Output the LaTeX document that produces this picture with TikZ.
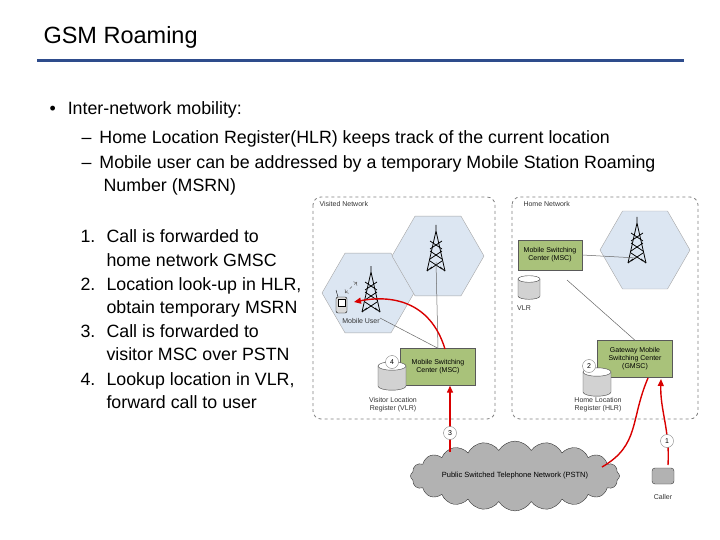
\documentclass[tikz,border=0pt]{standalone}
\usepackage{fontspec}
\setmainfont{Liberation Sans}
\usetikzlibrary{shapes.geometric,shapes.symbols,arrows.meta}
\definecolor{boxgreen}{HTML}{A9C27A}
\definecolor{hexfill}{HTML}{DCE6F2}
\definecolor{rulecol}{HTML}{2E4C8C}
\tikzset{
  txt/.style={anchor=base west,font=\fontsize{17.8}{20}\selectfont},
  sm/.style={font=\fontsize{7}{8}\selectfont,align=center,text=black!80},
  netbox/.style={draw=gray,dashed,rounded corners=8pt,line width=0.8pt},
  msc/.style={draw=gray!70!black,fill=boxgreen,minimum width=#1,minimum height=37pt,font=\fontsize{7}{8}\selectfont,align=center},
  hex/.style={regular polygon,regular polygon sides=6,shape border rotate=0,draw=gray!70,fill=hexfill,inner sep=0pt},
  num/.style={circle,draw=gray,fill=white,inner sep=1pt,minimum size=13pt,font=\fontsize{7}{8}\selectfont},
  red/.style={draw=red!85!black,line width=1.4pt},
  thin/.style={draw=gray!80!black,line width=0.5pt}
}
% cylinder: center x, top y, half width, body height
\newcommand{\cyld}[4]{\begin{scope}[shift={(#1,#2)}]
 \draw[draw=gray!50!black,fill=gray!35] (-#3,0) -- (-#3,#4) arc[start angle=180,end angle=360,x radius=#3,y radius=-#3*0.3] -- (#3,0) -- cycle;
 \draw[draw=gray!50!black,fill=white] (0,0) ellipse[x radius=#3,y radius=#3*0.3];
\end{scope}}
\newcommand{\tower}[1]{\begin{scope}[shift={#1},line width=0.8pt]
 \draw (0,-30)--(-9,10) (0,-30)--(9,10) (0,-36)--(0,-28);
 \foreach \y in {-20,-10,0} {\draw (-6,\y+8)--(6,\y);\draw (6,\y+8)--(-6,\y);}
 \draw (-9,10)--(-4,6) (9,10)--(4,6);
\end{scope}}
\begin{document}
\begin{tikzpicture}[x=1pt,y=-1pt]
\useasboundingbox (0,0) rectangle (720,540);
\node[anchor=west,font=\fontsize{23.5}{26}\selectfont] (title) at (40,37) {GSM Roaming};
\fill[rulecol] (37,59) rectangle (684,62);
\node[txt] (b) at (46,115) {•\hspace{12pt}Inter-network mobility:};
\node[txt] (d1) at (78,144) {–\hspace{8pt}Home Location Register(HLR) keeps track of the current location};
\node[txt] (d2) at (78,169) {–\hspace{8pt}Mobile user can be addressed by a temporary Mobile Station Roaming};
\node[txt] (d2b) at (100,192) {Number (MSRN)};
\foreach \i/\y/\a/\b in {1/243/{Call is forwarded to}/{home network GMSC},2/290/{Location look-up in HLR,}/{obtain temporary MSRN},3/337/{Call is forwarded to}/{visitor MSC over PSTN},4/385/{Lookup location in VLR,}/{forward call to user}}{
 \node[txt] (n\i) at (77,\y) {\i.};
 \node[txt] (na\i) at (103,\y) {\a};
 \node[txt] (nb\i) at (103,\y+23) {\b};
}
% networks
\draw[netbox] (313,197) rectangle (495,419);
\draw[netbox] (512,197) rectangle (698,419);
\node[sm,anchor=west] (vn) at (316,204) {Visited Network};
\node[sm,anchor=west] (hn) at (520,204) {Home Network};
% hexes
\node[hex,minimum size=92pt] (h1) at (368,293) {};
\node[hex,minimum size=92pt] (h2) at (438,256) {};
\node[hex,minimum size=90pt] (h3) at (645,250) {};
\tower{(371,302)}
\tower{(436,261)}
\tower{(637,253)}
% mobile
\draw[fill=gray!30,rounded corners=2pt] (336,297) rectangle (347,313);
\draw[fill=white] (338,299) rectangle (345,306);
\draw (338,297)--(336,290);
\draw[thin,dashed,<->] (345,293)--(357,282);
\node[sm] (mu) at (361,321) {Mobile User};
% visited MSC
\node[msc=75pt] (vmsc) at (438,367) {Mobile Switching\\Center (MSC)};
\cyld{392}{366}{14}{20}
\node[num] (c4) at (392,362) {4};
\node[sm] (vlrl) at (393,405) {Visitor Location\\Register (VLR)};
% home MSC
\node[msc=64pt,minimum height=30pt] (hmsc) at (550,255) {Mobile Switching\\Center (MSC)};
\cyld{529}{279}{11}{17}
\node[sm] (hvlrl) at (524,308) {VLR};
% GMSC
\node[msc=75pt] (gmsc) at (635,359) {Gateway Mobile\\Switching Center\\(GMSC)};
\cyld{597}{372}{14}{20}
\node[num] (c2) at (589,366) {2};
\node[sm] (hlrl) at (598,405) {Home Location\\Register (HLR)};
% PSTN
\node[cloud,cloud puffs=20,cloud puff arc=120,aspect=4,draw=gray!40!black,fill=gray!60,minimum width=205pt,minimum height=52pt,inner sep=0pt,font=\fontsize{7.5}{9}\selectfont] (pstn) at (515,476) {Public Switched Telephone Network (PSTN)};
% caller
\node[draw=gray!40!black,fill=gray!60,rounded corners=3pt,minimum width=22pt,minimum height=16pt] (phone) at (663,476) {};
\node[sm] (caller) at (663,497) {Caller};
% thin lines
\draw[thin] (vmsc.north) -- (436,262);
\draw[thin] (vmsc.north) -- (380,318);
\draw[thin] (hmsc.east) -- (637,258);
\draw[thin] (567,280) -- (gmsc.north);
% red arrows
\coordinate (pt) at (450,452);
\draw[red,-{Triangle[length=7pt,width=6pt]}] (pt) -- (vmsc.south -| pt);
\draw[red,-{Triangle[length=7pt,width=6pt]}] (445,349) .. controls (430,300) and (390,295) .. (354,302);
\coordinate (pr) at (602,467);
\draw[red] (pr) .. controls (640,445) and (630,420) .. (648,378);
\coordinate (pc) at (668,465);
\draw[red,-{Triangle[length=7pt,width=6pt]}] (pc) .. controls (670,430) and (660,410) .. (661,379);
\node[num] (c3) at (450,433) {3};
\node[num] (c1) at (667,441) {1};
\end{tikzpicture}
\end{document}
